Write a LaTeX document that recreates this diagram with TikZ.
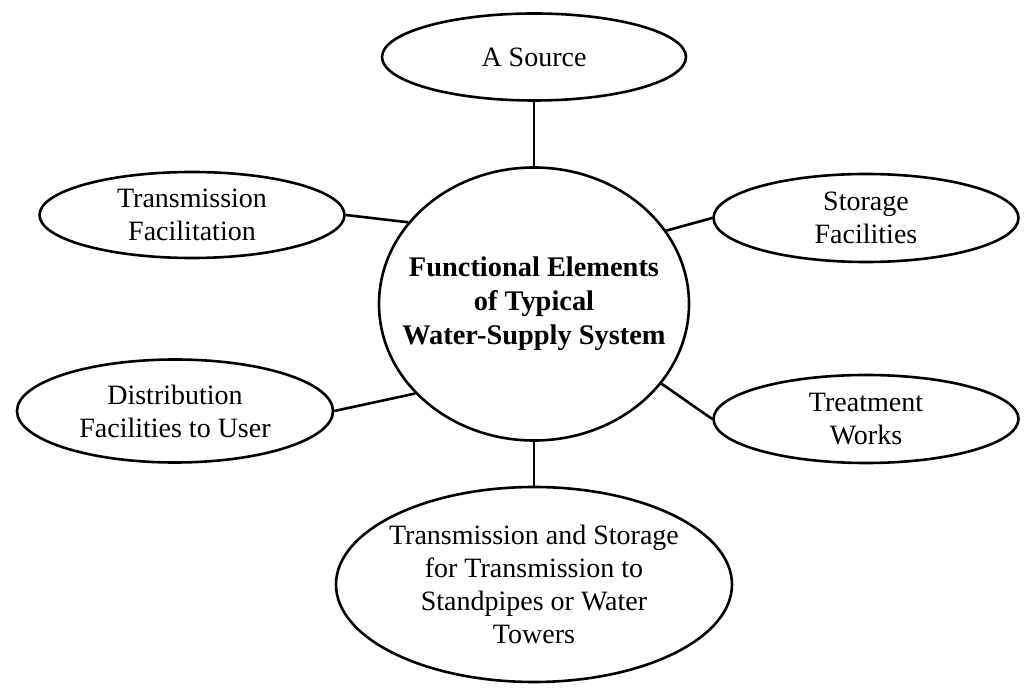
\documentclass[tikz,border=0pt]{standalone}
\usepackage{fontspec}
\setmainfont{Liberation Serif}
\usetikzlibrary{shapes.geometric}
\begin{document}
\begin{tikzpicture}[x=0.5pt,y=-0.5pt,
    element/.style={ellipse,draw,line width=1.3pt,inner xsep=-14pt,inner ysep=0pt,
      align=center,font=\fontsize{14}{16.5}\selectfont},
    link/.style={line width=1.3pt}]
      \useasboundingbox (0,0) rectangle (1035,689);

      % centre
      \node[element,minimum width=155pt,minimum height=136.5pt,
        font=\fontsize{14.2}{17}\selectfont\bfseries] (system) at (534,304)
        {Functional Elements\\of Typical\\Water-Supply System};

      % elements round it
      \node[element,minimum width=152pt,minimum height=43.5pt] (source) at (534,57) {A Source};
      \node[element,minimum width=152.5pt,minimum height=43pt] (transfac) at (192,215) {Transmission\\Facilitation};
      \node[element,minimum width=152.5pt,minimum height=44pt] (storage) at (866,218) {Storage\\Facilities};
      \node[element,minimum width=158pt,minimum height=51.5pt] (distrib) at (175,411) {Distribution\\Facilities to User};
      \node[element,minimum width=152.5pt,minimum height=44pt] (treatment) at (866,419) {Treatment\\Works};
      \node[element,minimum width=198pt,minimum height=97.5pt] (towers) at (534,584.5)
        {Transmission and Storage\\for Transmission to\\Standpipes or Water\\Towers};

      \draw[link] (system.north) -- (source.south);
      \draw[link] (transfac.east) -- (system.147);
      \draw[link] (storage.west) -- (system.29);
      \draw[link] (distrib.east) -- (system.217);
      \draw[link] (treatment.west) -- (system.-32);
      \draw[link] (system.south) -- (towers.north);
    \end{tikzpicture}
\end{document}
